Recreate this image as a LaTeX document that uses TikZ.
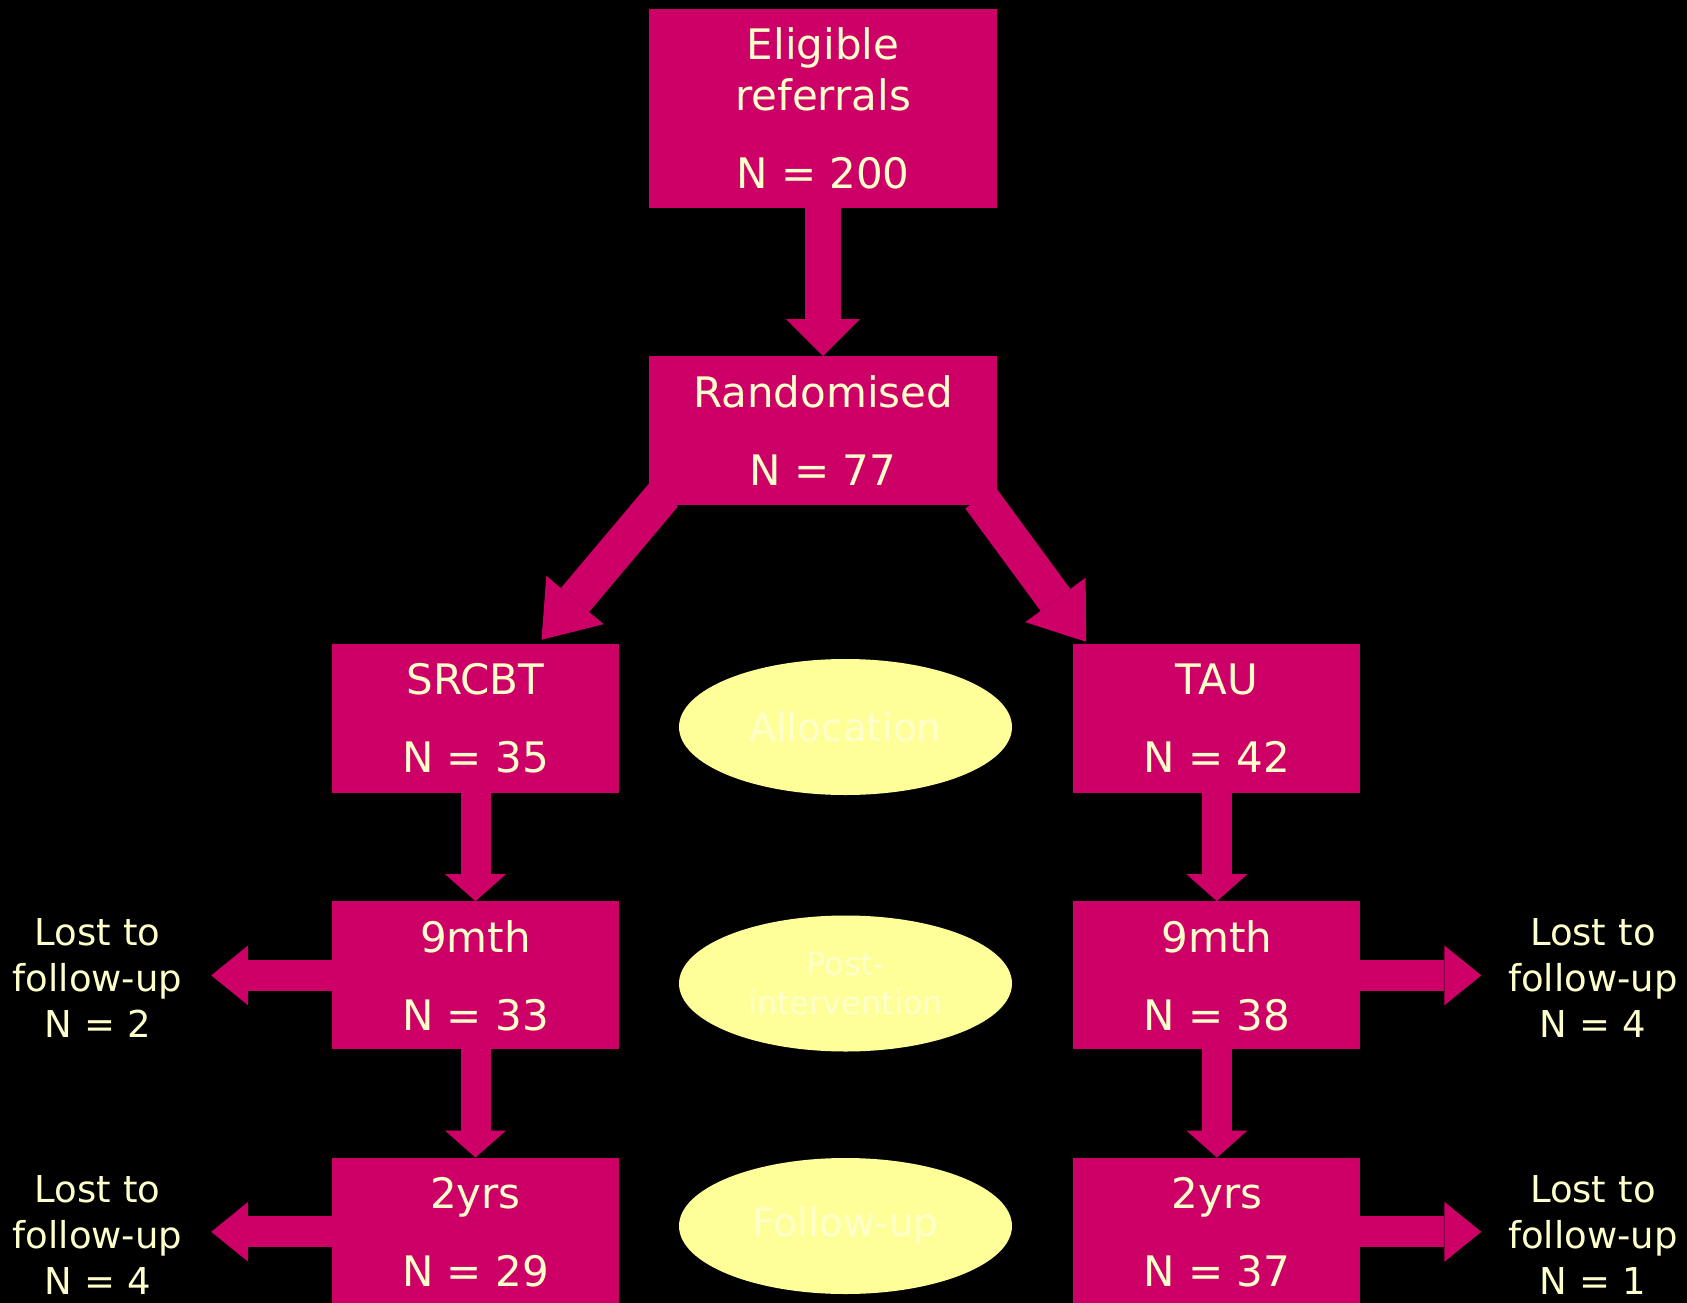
\documentclass[tikz,border=0pt]{standalone}
\usepackage{fontspec}
\setmainfont{DejaVu Sans}
\usetikzlibrary{arrows.meta,positioning,calc,shapes.geometric}
\definecolor{TrialPink}{HTML}{CC0066}
\definecolor{TrialCream}{HTML}{FFFFCC}
\definecolor{TrialOval}{HTML}{FFFF99}
\definecolor{TrialOvalText}{HTML}{FFFFCC}

\begin{document}
\begin{tikzpicture}[x=1pt,y=-1pt,node distance=108pt and 454pt]
    \tikzset{flowbox/.style={fill=TrialPink,text=TrialCream,minimum width=287pt,minimum height=149pt,
      inner sep=0pt,align=center,font=\fontsize{42}{51}\selectfont},
      phaseoval/.style={ellipse,fill=TrialOval,text=TrialOvalText,minimum width=333pt,minimum height=136pt,
      inner sep=0pt,align=center,font=\fontsize{39}{39}\selectfont},
      lostnote/.style={text=TrialCream,text width=171pt,inner sep=0pt,align=center,font=\fontsize{37}{46}\selectfont},
      stemarrow/.style={draw=TrialPink,line width=36pt,-{Triangle[length=37pt,width=74pt,line width=0pt]}},
      splitarrow/.style={draw=TrialPink,line width=37pt,-{Triangle[length=52pt,width=75pt,line width=0pt]}},
      downarrow/.style={draw=TrialPink,line width=30pt,shorten <=-2pt,-{Triangle[length=27pt,width=61pt,line width=0pt]}},
      lostarrow/.style={draw=TrialPink,line width=31pt,shorten <=-3pt,-{Triangle[length=37pt,width=60pt,line width=0pt]}}}
    \useasboundingbox (0,0) rectangle (1687,1303);
    \fill[black] (0,0) rectangle (1687,1303);
    \clip (0,0) rectangle (1687,1303);
    \node[flowbox,minimum width=348pt,minimum height=199pt] (elig) at (823,108.5) {Eligible\\referrals\\[27pt]N = 200};
    \node[flowbox,minimum width=348pt,below=148pt of elig] (rand) {Randomised\\[27pt]N = 77};
    \node[flowbox] (srcbt) at (475.5,718.5) {SRCBT\\[27pt]N = 35};
    \node[flowbox,right=of srcbt] (tau) {TAU\\[27pt]N = 42};
    \node[flowbox,minimum height=148pt,below=of srcbt] (nineL) {9mth\\[27pt]N = 33};
    \node[flowbox,minimum height=148pt,below=of tau] (nineR) {9mth\\[27pt]N = 38};
    \node[flowbox,minimum height=148pt,below=of nineL] (twoL) {2yrs\\[27pt]N = 29};
    \node[flowbox,minimum height=148pt,below=of nineR] (twoR) {2yrs\\[27pt]N = 37};
    \node[phaseoval] (alloc) at (845.5,727) {Allocation};
    \node[phaseoval,font=\fontsize{32}{39}\selectfont] (post) at (845.5,983.5) {Post-\\intervention};
    \node[phaseoval] (fup) at (845.5,1226) {Follow-up};
    \node[lostnote] (lostL9) at (97.5,978) {Lost to\\follow-up\\N = 2};
    \node[lostnote] (lostR9) at (1593,978) {Lost to\\follow-up\\N = 4};
    \node[lostnote] (lostL2) at (97.5,1235) {Lost to\\follow-up\\N = 4};
    \node[lostnote] (lostR2) at (1593,1235) {Lost to\\follow-up\\N = 1};
    \draw[stemarrow] (elig.south) -- (rand.north);
    \draw[splitarrow] ($(rand.south west)+(15,-11)$) -- ($(srcbt.north)+(66,-4)$);
    \draw[splitarrow] ($(rand.south east)+(-17,-8)$) -- ($(tau.north west)+(13,-2)$);
    \draw[downarrow] (srcbt.south) -- (nineL.north);
    \draw[downarrow] (nineL.south) -- (twoL.north);
    \draw[downarrow] (tau.south) -- (nineR.north);
    \draw[downarrow] (nineR.south) -- (twoR.north);
    \draw[lostarrow,shorten >=28pt] (nineL.west) -- (nineL.west -| lostL9.east);
    \draw[lostarrow,shorten >=28pt] (twoL.west) -- (twoL.west -| lostL2.east);
    \draw[lostarrow,shorten >=26pt] (nineR.east) -- (nineR.east -| lostR9.west);
    \draw[lostarrow,shorten >=26pt] (twoR.east) -- (twoR.east -| lostR2.west);
  \end{tikzpicture}
\end{document}
